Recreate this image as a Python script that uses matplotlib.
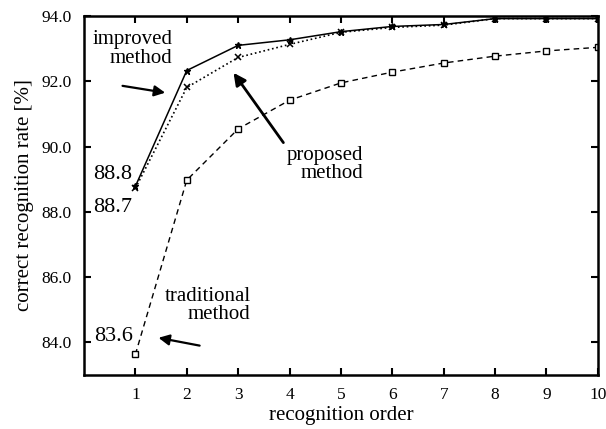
import matplotlib
matplotlib.use("Agg")
import matplotlib.pyplot as plt

plt.rcParams['font.family'] = ['Liberation Serif', 'DejaVu Serif']

# recognition rate [%] per recognition order
order = [1, 2, 3, 4, 5, 6, 7, 8, 9, 10]
improved = [88.78, 92.33, 93.10, 93.27, 93.52, 93.68, 93.74, 93.92, 93.92, 93.92]
proposed = [88.72, 91.81, 92.73, 93.13, 93.50, 93.65, 93.72, 93.92, 93.92, 93.92]
traditional = [83.63, 88.97, 90.54, 91.42, 91.95, 92.28, 92.56, 92.77, 92.93, 93.04]

yticks = [84.0, 86.0, 88.0, 90.0, 92.0, 94.0]

fig = plt.figure(figsize=(6.06, 4.29), dpi=100)
ax = fig.add_axes([0.1386, 0.1259, 0.848, 0.8368])

ax.plot(order, improved, '-', color='black', lw=1.1,
        marker='*', ms=5, mfc='black', mec='black')
ax.plot(order, proposed, ':', color='black', lw=1.2,
        marker='x', ms=4, mew=1.1)
ax.plot(order, traditional, '--', color='black', lw=1.0, dashes=(4, 3),
        marker='s', ms=4, mfc='white', mec='black', mew=1.0)

ax.set_xlim(0, 10)
ax.set_ylim(83.0, 94.0)
ax.set_xticks(order)
ax.set_yticks(yticks)
ax.set_yticklabels([f"{v:.1f}" for v in yticks])
ax.tick_params(direction='in', length=5, width=1.5, labelsize=12.5,
               top=True, right=True)
ax.tick_params(axis='y', pad=9)
ax.tick_params(axis='x', pad=9)
for s in ax.spines.values():
    s.set_linewidth(1.8)

ax.set_xlabel("recognition order", fontsize=15, labelpad=2)
ax.set_ylabel("correct recognition rate [%]", fontsize=15, labelpad=5)

# value labels at order 1
ax.text(0.18, 89.14, f"{improved[0]:.1f}", fontsize=16, ha='left', va='center')
ax.text(0.18, 88.14, f"{proposed[0]:.1f}", fontsize=16, ha='left', va='center')
ax.text(0.2, 84.17, f"{traditional[0]:.1f}", fontsize=16, ha='left', va='center')

arrow = dict(arrowstyle='-|>', color='black', lw=1.6,
             mutation_scale=16, shrinkA=0, shrinkB=0)

# method annotations
ax.text(1.72, 92.99, "improved\nmethod", fontsize=15, ha='right', va='center',
        linespacing=0.95)
ax.annotate("", xy=(1.58, 91.65), xytext=(0.75, 91.86), arrowprops=arrow)

ax.text(5.44, 89.45, "proposed\nmethod", fontsize=15, ha='right', va='center',
        linespacing=0.95)
ax.annotate("", xy=(2.91, 92.26), xytext=(3.88, 90.12),
            arrowprops=dict(arrow, lw=2.0, mutation_scale=18))

ax.text(3.24, 85.13, "traditional\nmethod", fontsize=15, ha='right', va='center',
        linespacing=0.95)
ax.annotate("", xy=(1.45, 84.14), xytext=(2.25, 83.9), arrowprops=arrow)

fig.savefig("out.png", dpi=100)
